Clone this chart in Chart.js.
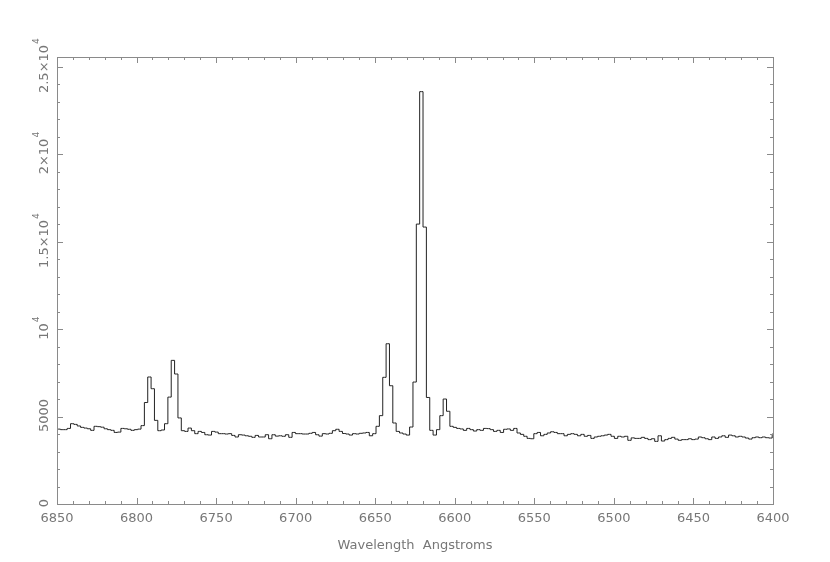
<!DOCTYPE html>
<html>
<head>
<meta charset="utf-8">
<script src="https://cdn.jsdelivr.net/npm/chart.js@4.4.0/dist/chart.umd.min.js"></script>
<style>
  html, body { margin: 0; padding: 0; background: #fff; }
  #wrap { width: 830px; height: 562px; }
</style>
</head>
<body>
<div id="wrap"><canvas id="spectrum" width="830" height="562"></canvas></div>
<script>
// spectrum sampling (Angstroms) and flux per bin
const lambdaFirst = 6851.0;
const lambdaStep = -2.11;
const flux = [
    4300, 4280, 4250, 4250, 4320, 4590, 4550, 4460, 4380, 4340,
    4300, 4210, 4440, 4420, 4390, 4300, 4250, 4210, 4090, 4110,
    4320, 4300, 4270, 4210, 4250, 4280, 4480, 5800, 7260, 6590,
    4780, 4190, 4230, 4590, 6110, 8210, 7430, 4920, 4190, 4150,
    4340, 4190, 4020, 4150, 4090, 3960, 3940, 4150, 4110, 4020,
    4020, 4000, 4020, 3920, 3830, 3960, 3940, 3900, 3870, 3810,
    3920, 3830, 3830, 3960, 3730, 3960, 3880, 3900, 3870, 3960,
    3810, 4090, 4020, 4020, 4000, 4000, 4040, 4090, 3960, 3880,
    4020, 4000, 4040, 4190, 4270, 4150, 4030, 4000, 3940, 4020,
    4000, 4040, 4060, 4090, 3900, 4020, 4440, 5050, 7240, 9160,
    6760, 4630, 4150, 4060, 4000, 3940, 4400, 6970, 16000, 23570,
    15830, 6090, 4210, 3940, 4250, 5050, 6000, 5300, 4440, 4380,
    4320, 4290, 4210, 4320, 4250, 4170, 4250, 4210, 4320, 4310,
    4250, 4150, 4210, 4090, 4270, 4290, 4210, 4320, 4060, 3980,
    3870, 3750, 3730, 4020, 4090, 3900, 3980, 4060, 4130, 4090,
    4020, 4020, 3900, 3980, 4020, 3980, 3900, 3980, 3870, 3920,
    3750, 3830, 3870, 3900, 3940, 3980, 3870, 3750, 3870, 3830,
    3870, 3640, 3780, 3750, 3750, 3810, 3750, 3680, 3730, 3580,
    3900, 3600, 3680, 3750, 3810, 3710, 3640, 3680, 3680, 3730,
    3680, 3710, 3830, 3790, 3730, 3680, 3830, 3750, 3830, 3900,
    3810, 3940, 3900, 3830, 3870, 3830, 3770, 3710, 3790, 3830,
    3790, 3830, 3790, 3770, 4000
];

const xTickValues = [6850, 6800, 6750, 6700, 6650, 6600, 6550, 6500, 6450, 6400];
const yTickValues = [0, 5000, 10000, 15000, 20000, 25000];
const yTickBase = ['0', '5000', '10', '1.5×10', '2×10', '2.5×10'];
const yTickExp = ['', '', '4', '4', '4', '4'];
const xTitle = 'Wavelength  Angstroms';

const points = flux.map((f, i) => ({ x: lambdaFirst + i * lambdaStep, y: f }));

// box, inward ticks on all four sides, and the labels
const frameAndTicks = {
    id: 'frameAndTicks',
    afterDatasetsDraw(chart) {
        const { ctx, chartArea: a, scales: { x, y } } = chart;
        ctx.save();
        ctx.strokeStyle = '#8a8a8a';
        ctx.lineWidth = 1;
        ctx.strokeRect(a.left + 0.5, a.top + 0.5, a.right - a.left, a.bottom - a.top);

        ctx.beginPath();
        for (let w = 6400; w <= 6850; w += 10) {
            const px = Math.round(x.getPixelForValue(w)) + 0.5;
            const len = w % 50 === 0 ? 6 : 3;
            ctx.moveTo(px, a.bottom); ctx.lineTo(px, a.bottom - len);
            ctx.moveTo(px, a.top); ctx.lineTo(px, a.top + len);
        }
        for (let v = 0; v <= 25000; v += 1000) {
            const py = Math.round(y.getPixelForValue(v)) + 0.5;
            const len = v % 5000 === 0 ? 6 : 3;
            ctx.moveTo(a.left, py); ctx.lineTo(a.left + len, py);
            ctx.moveTo(a.right, py); ctx.lineTo(a.right - len, py);
        }
        ctx.stroke();

        ctx.fillStyle = '#777';
        ctx.font = '13px "DejaVu Sans"';
        ctx.textAlign = 'center';
        ctx.textBaseline = 'alphabetic';
        xTickValues.forEach(w => {
            ctx.fillText(String(w), x.getPixelForValue(w), 522);
        });
        ctx.fillText(xTitle, (a.left + a.right) / 2, 549);

        ctx.textAlign = 'left';
        yTickValues.forEach((v, i) => {
            const py = y.getPixelForValue(v);
            ctx.save();
            ctx.translate(48, py - 1);
            ctx.rotate(-Math.PI / 2);
            ctx.font = '13px "DejaVu Sans"';
            const wb = ctx.measureText(yTickBase[i]).width;
            ctx.font = '9px "DejaVu Sans"';
            const we = yTickExp[i] ? ctx.measureText(yTickExp[i]).width + 1 : 0;
            const start = -(wb + we) / 2;
            ctx.font = '13px "DejaVu Sans"';
            ctx.fillText(yTickBase[i], start, 0);
            if (yTickExp[i]) {
                ctx.font = '9px "DejaVu Sans"';
                ctx.fillText(yTickExp[i], start + wb + 1, -9);
            }
            ctx.restore();
        });
        ctx.restore();
    }
};

new Chart(document.getElementById('spectrum'), {
    type: 'line',
    data: {
        datasets: [{
            data: points,
            stepped: 'middle',
            borderColor: '#222',
            borderWidth: 1,
            pointRadius: 0,
            fill: false
        }]
    },
    options: {
        responsive: false,
        animation: false,
        layout: { padding: { left: 57, right: 57, top: 57, bottom: 58 } },
        plugins: { legend: { display: false }, tooltip: { enabled: false } },
        scales: {
            x: { type: 'linear', reverse: true, min: 6400, max: 6850, display: false },
            y: { type: 'linear', min: 0, max: 25550, display: false }
        }
    },
    plugins: [frameAndTicks]
});
</script>
</body>
</html>
